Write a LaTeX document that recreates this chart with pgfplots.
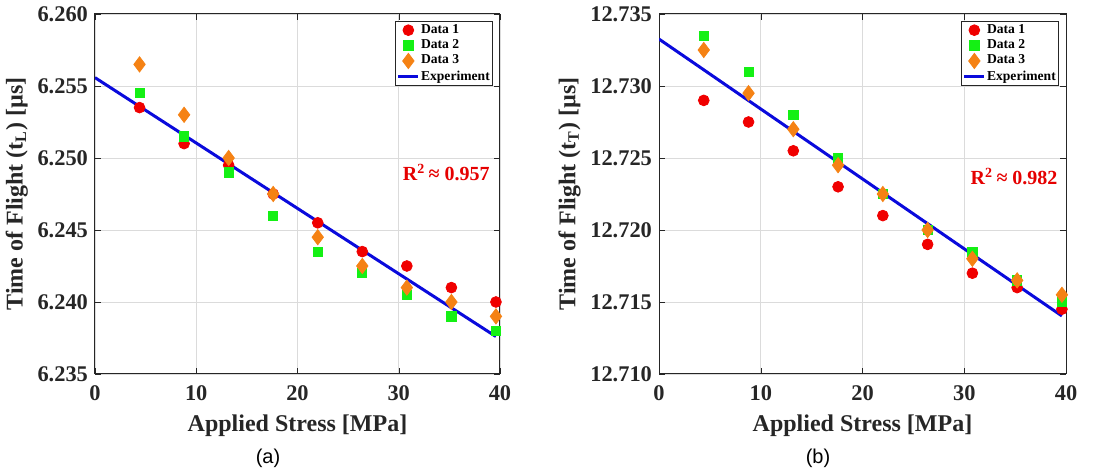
\documentclass[border=0pt]{standalone}
\usepackage{fontspec}
\setmainfont{Liberation Serif}
\newfontfamily\capfont{Liberation Sans}
\usepackage{pgfplots}
\usepackage{pgfplotstable}
\pgfplotsset{compat=1.18}

\definecolor{dOne}{RGB}{240,0,0}
\definecolor{dTwo}{RGB}{20,240,20}
\definecolor{dThree}{RGB}{245,130,20}
\definecolor{fitBlue}{RGB}{10,10,220}
\definecolor{axGray}{RGB}{38,38,38}

% (a) longitudinal
\pgfplotstableread{
x    d1      d2      d3
4.4  6.2535  6.2545  6.2565
8.8  6.2510  6.2515  6.2530
13.2 6.2495  6.2490  6.2500
17.6 6.2475  6.2460  6.2475
22.0 6.2455  6.2435  6.2445
26.4 6.2435  6.2420  6.2425
30.8 6.2425  6.2405  6.2410
35.2 6.2410  6.2390  6.2400
39.6 6.2400  6.2380  6.2390
}\tabA

% (b) transverse
\pgfplotstableread{
x    d1       d2       d3
4.4  12.7290  12.7335  12.7325
8.8  12.7275  12.7310  12.7295
13.2 12.7255  12.7280  12.7270
17.6 12.7230  12.7250  12.7245
22.0 12.7210  12.7225  12.7225
26.4 12.7190  12.7200  12.7200
30.8 12.7170  12.7185  12.7180
35.2 12.7160  12.7165  12.7165
39.6 12.7145  12.7150  12.7155
}\tabB

\pgfplotsset{
  tof/.style={
    scale only axis, width=202.5pt, height=180pt,
    anchor=south west,
    xmin=0, xmax=40, xtick={0,10,20,30,40},
    grid=major, major grid style={black!14, line width=0.4pt},
    tick align=inside, major tick length=3pt,
    axis line style={axGray, line width=0.5pt}, tick style={axGray},
    /pgf/number format/assume math mode=true,
    ticklabel style={font=\fontsize{11.2}{12}\selectfont\bfseries, text=axGray},
    xticklabel style={yshift=-2.5pt},
    yticklabel style={/pgf/number format/fixed, /pgf/number format/fixed zerofill,
      /pgf/number format/precision=3},
    scaled y ticks=false,
    label style={font=\fontsize{12}{14}\selectfont\bfseries, text=axGray},
    ylabel style={yshift=-2pt},
    xlabel={Applied Stress [MPa]},
    legend style={font=\fontsize{6.8}{7.5}\selectfont\bfseries,
      at={(rel axis cs:1,1)}, anchor=north east, xshift=-3.5pt, yshift=-3.5pt,
      draw=axGray, inner sep=0.8pt, row sep=0.4pt,
      nodes={inner sep=0.6pt}},
    legend cell align=left,
    legend image code/.code={\draw[mark repeat=2,mark phase=2,##1]
      plot coordinates {(0pt,0pt) (5pt,0pt) (10pt,0pt)};},
  },
  s1/.style={only marks, mark=*, mark size=2.7pt, color=dOne},
  s2/.style={only marks, mark=square*, mark size=2.3pt, color=dTwo},
  s3/.style={only marks, mark=diamond*, mark size=3.8pt, color=dThree},
  fit/.style={no marks, color=fitBlue, line width=1.5pt},
}

\begin{document}
\begin{tikzpicture}
\useasboundingbox (0,0) rectangle (552pt,237pt);

\begin{axis}[tof, at={(47.5pt,50pt)},
  ymin=6.235, ymax=6.260, ytick={6.235,6.240,6.245,6.250,6.255,6.260},
  ylabel={Time of Flight (t\textsubscript{L}) [µs]}]
  \addplot[s1] table[x=x, y=d1] {\tabA};
  \addlegendentry{Data 1}
  \addplot[s2] table[x=x, y=d2] {\tabA};
  \addlegendentry{Data 2}
  \addplot[s3] table[x=x, y=d3] {\tabA};
  \addlegendentry{Data 3}
  \addplot[fit] coordinates {(0,6.25558) (39.6,6.23760)};
  \addlegendentry{Experiment}
  \node[font=\fontsize{10}{12}\selectfont\bfseries, text=red!90!black]
    at (axis cs:34.7,6.2490) {R\textsuperscript{2}\,≈ 0.957};
\end{axis}

\begin{axis}[tof, at={(329.5pt,50pt)}, width=203.5pt,
  ymin=12.710, ymax=12.735, ytick={12.710,12.715,12.720,12.725,12.730,12.735},
  ylabel={Time of Flight (t\textsubscript{T}) [µs]}]
  \addplot[s1] table[x=x, y=d1] {\tabB};
  \addlegendentry{Data 1}
  \addplot[s2] table[x=x, y=d2] {\tabB};
  \addlegendentry{Data 2}
  \addplot[s3] table[x=x, y=d3] {\tabB};
  \addlegendentry{Data 3}
  \addplot[fit] coordinates {(0,12.73326) (39.6,12.71403)};
  \addlegendentry{Experiment}
  \node[font=\fontsize{10}{12}\selectfont\bfseries, text=red!90!black]
    at (axis cs:34.9,12.7237) {R\textsuperscript{2}\,≈ 0.982};
\end{axis}

\node[font=\capfont\fontsize{10}{12}\selectfont] at (134pt,8pt) {(a)};
\node[font=\capfont\fontsize{10}{12}\selectfont] at (409pt,8pt) {(b)};
\end{tikzpicture}
\end{document}
